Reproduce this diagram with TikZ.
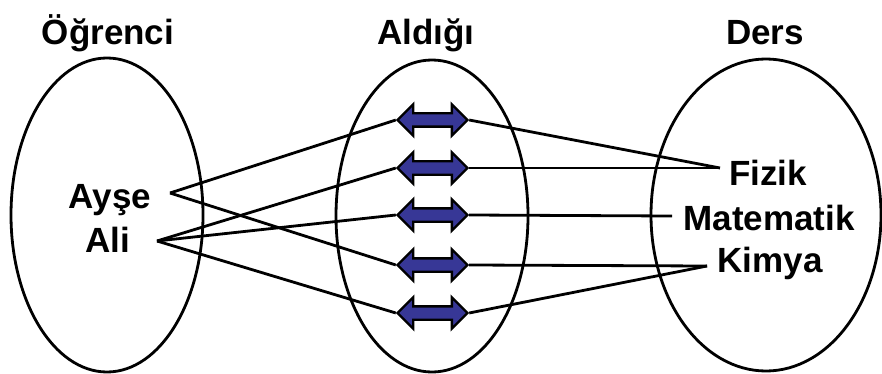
\documentclass[tikz,border=0pt]{standalone}
\usepackage{fontspec}
\setmainfont{Liberation Sans}
\usetikzlibrary{shapes.arrows}
\definecolor{arrblue}{RGB}{55,55,150}
\begin{document}
\begin{tikzpicture}[x=1pt,y=-1pt,
  lbl/.style={font=\fontsize{35}{40}\selectfont\bfseries, anchor=base, inner sep=0pt},
  setring/.style={draw=black, line width=2.8pt},
  link/.style={draw=black, line width=2.8pt},
  darr/.style={double arrow, draw=black, line width=2.4pt, fill=arrblue,
    minimum height=70pt, double arrow head extend=9pt,
    inner xsep=0pt, inner ysep=5.5pt}]
\useasboundingbox (0,0) rectangle (882,374);
% sets
\draw[setring] (107,215) ellipse [x radius=96, y radius=157];
\draw[setring] (432,216) ellipse [x radius=96, y radius=156];
\draw[setring] (766,215) ellipse [x radius=115, y radius=156];
% titles
\node[lbl] (t1) at (108,45) {Öğrenci};
\node[lbl] (t2) at (426,45) {Aldığı};
\node[lbl] (t3) at (765,45) {Ders};
% elements
\node[lbl] (ayse) at (110,208) {Ayşe};
\node[lbl] (ali) at (108,252) {Ali};
\node[lbl] (fizik) at (768,185) {Fizik};
\node[lbl] (mat) at (769,230) {Matematik};
\node[lbl] (kim) at (770,272) {Kimya};
% connection points
\coordinate (pA) at (170,193);
\coordinate (pL) at (157,241);
\coordinate (pF) at (720,168);
\coordinate (pM) at (672,216);
\coordinate (pK) at (707,266);
% relation arrows
\node[darr] (r1) at (432.5,120) {};
\node[darr] (r2) at (432.5,168) {};
\node[darr] (r3) at (432.5,215) {};
\node[darr] (r4) at (432.5,265) {};
\node[darr] (r5) at (432.5,313) {};
% links
\draw[link] (pA) -- (r1.west);
\draw[link] (pA) -- (r4.west);
\draw[link] (pL) -- (r2.west);
\draw[link] (pL) -- (r3.west);
\draw[link] (pL) -- (r5.west);
\draw[link] (r1.east) -- (pF);
\draw[link] (r2.east) -- (pF);
\draw[link] (r3.east) -- (pM);
\draw[link] (r4.east) -- (pK);
\draw[link] (r5.east) -- (pK);
\end{tikzpicture}
\end{document}
